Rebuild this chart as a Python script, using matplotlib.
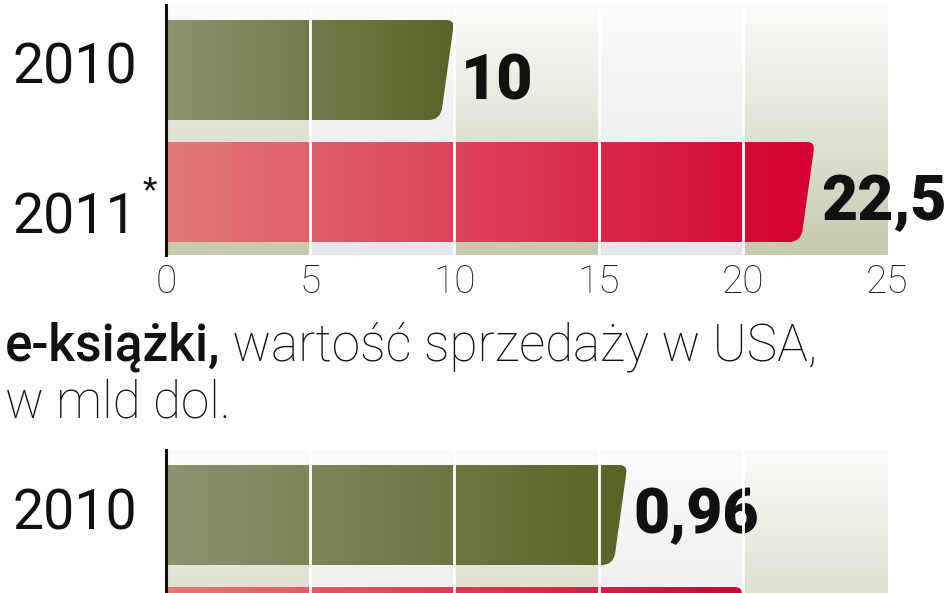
import numpy as np
import matplotlib.pyplot as plt
from matplotlib.path import Path
from matplotlib.patches import PathPatch
from matplotlib.colors import LinearSegmentedColormap, to_rgb

# ---- data ----
years = ['2010', '2011']
year_marks = ['', '*']

top_values = [10, 22.5]
top_value_labels = ['10', '22,5']
top_ticks = [0, 5, 10, 15, 20, 25]
top_tick_labels = ['0', '5', '10', '15', '20', '25']

ebook_values = [0.96, 1.2]
ebook_value_labels = ['0,96', '1,2']
ebook_ticks = [0, 0.3, 0.6, 0.9, 1.2, 1.5]
ebook_tick_labels = ['0', '0,3', '0,6', '0,9', '1,2', '1,5']

title_bold = 'e-książki,'
title_rest = ' wartość sprzedaży w USA,'
title_line2 = 'w mld dol.'

# ---- look ----
W, H = 948, 593
plt.rcParams['font.family'] = ['Roboto', 'DejaVu Sans']

bar_colors = [('#8e9270', '#5a6326'), ('#e27a7a', '#d20032')]
band_colors = ['#c6c8b0', '#e2e6ea']
BAR_H = 100 / 122          # bar height in category units
Y_TOP, Y_BOT = -0.533, 1.516


def px_axes(left, top, right, bottom):
    return fig.add_axes([left / W, 1 - bottom / H, (right - left) / W, (bottom - top) / H])


def in_figure(ax, x, y):
    # skip labels that fall below the cropped edge of the picture
    return ax.transData.transform((x, y))[1] > 0


def draw_bar(ax, yc, value, c_left, c_right):
    # bar with a slanted, rounded right end like the print graphic
    x0, x1 = ax.get_xlim()
    ppx = ax.bbox.width / (x1 - x0)
    ppy = ax.bbox.height / abs(Y_BOT - Y_TOP)
    s = 14 / ppx
    rt_x, rt_y = 8 / ppx, 8 / ppy
    rb_x, rb_y = 12 / ppx, 12 / ppy
    top = yc - BAR_H / 2
    bot = yc + BAR_H / 2
    h = BAR_H
    verts = [
        (0, top),
        (value - rt_x, top),
        (value, top), (value - s * rt_y / h, top + rt_y),
        (value - s * (1 - rb_y / h), bot - rb_y),
        (value - s, bot), (value - s - rb_x, bot),
        (0, bot),
        (0, top),
    ]
    codes = [Path.MOVETO, Path.LINETO, Path.CURVE3, Path.CURVE3, Path.LINETO,
             Path.CURVE3, Path.CURVE3, Path.LINETO, Path.CLOSEPOLY]
    patch = PathPatch(Path(verts, codes), facecolor='none', edgecolor='none')
    ax.add_patch(patch)
    cmap = LinearSegmentedColormap.from_list('bar', [c_left, c_right])
    im = ax.imshow(np.linspace(0, 1, 256).reshape(1, -1), cmap=cmap, aspect='auto',
                   extent=(0, value, bot, top), zorder=2, interpolation='bilinear')
    im.set_clip_path(patch)


def draw_panel(ax, values, value_labels, ticks, tick_labels, year_dy, value_dy, show_ticks=True):
    xmax = ticks[-1]
    # background columns, white at the top fading into beige / grey
    t = np.linspace(0, 1, 256)[:, None]
    top_c = np.array(to_rgb('#fbfbf9'))
    for i in range(len(ticks) - 1):
        c = np.array(to_rgb(band_colors[i % 2]))
        grad = top_c + (c - top_c) * t ** 1.1
        ax.imshow(grad.reshape(256, 1, 3), aspect='auto',
                  extent=(ticks[i], ticks[i + 1], Y_BOT, Y_TOP), zorder=0,
                  interpolation='bilinear')
    ax.set_xlim(0, xmax)
    ax.set_ylim(Y_BOT, Y_TOP)

    for i, v in enumerate(values):
        draw_bar(ax, i, v, *bar_colors[i])
        if not in_figure(ax, 0, i):
            continue
        ax.annotate(years[i], xy=(0, i), xytext=(-29, -year_dy[i]), textcoords='offset pixels',
                    ha='right', va='baseline', fontsize=40, fontweight='normal', color='#111')
        if year_marks[i]:
            ax.annotate(year_marks[i], xy=(0, i), xytext=(-16, -8), textcoords='offset pixels',
                        ha='center', va='baseline', fontsize=24, fontweight='normal', color='#111')
        ax.annotate(value_labels[i], xy=(v, i), xytext=(6, -value_dy[i]), textcoords='offset pixels',
                    ha='left', va='baseline', fontsize=45, fontweight='heavy', color='#111',
                    annotation_clip=False)

    for x in ticks[1:-1]:
        ax.axvline(x, color='white', lw=2, zorder=4)

    for side in ['top', 'right', 'bottom']:
        ax.spines[side].set_visible(False)
    ax.spines['left'].set_linewidth(2.2)
    ax.spines['left'].set_color('#111')
    ax.spines['left'].set_zorder(6)
    ax.set_yticks([])
    if show_ticks:
        ax.set_xticks(ticks, tick_labels, fontsize=28, fontweight='light', color='#222')
        ax.tick_params(axis='x', length=0, pad=6)
    else:
        ax.set_xticks([])


fig = plt.figure(figsize=(W / 100, H / 100), dpi=100)
fig.patch.set_facecolor('white')

ax_top = px_axes(166, 5, 887, 255)
draw_panel(ax_top, top_values, top_value_labels, top_ticks, top_tick_labels,
           year_dy=[13, 41], value_dy=[29, 28])

# second chart, cut off by the lower edge of the picture
ax_bot = px_axes(166, 450, 887, 700)
draw_panel(ax_bot, ebook_values, ebook_value_labels, ebook_ticks, ebook_tick_labels,
           year_dy=[14, 14], value_dy=[18, 18], show_ticks=False)

# caption of the second chart, bold lead-in then light text
t1 = fig.text(5 / W, 1 - 360 / H, title_bold, fontsize=37, fontweight='medium',
              va='baseline', color='#111')
fig.canvas.draw()
bb = t1.get_window_extent()
fig.text(bb.x1 / W, 1 - 360 / H, title_rest, fontsize=37, fontweight='light',
         va='baseline', color='#111')
fig.text(5 / W, 1 - 418 / H, title_line2, fontsize=37, fontweight='light',
         va='baseline', color='#111')

fig.savefig('out.png', dpi=100)
